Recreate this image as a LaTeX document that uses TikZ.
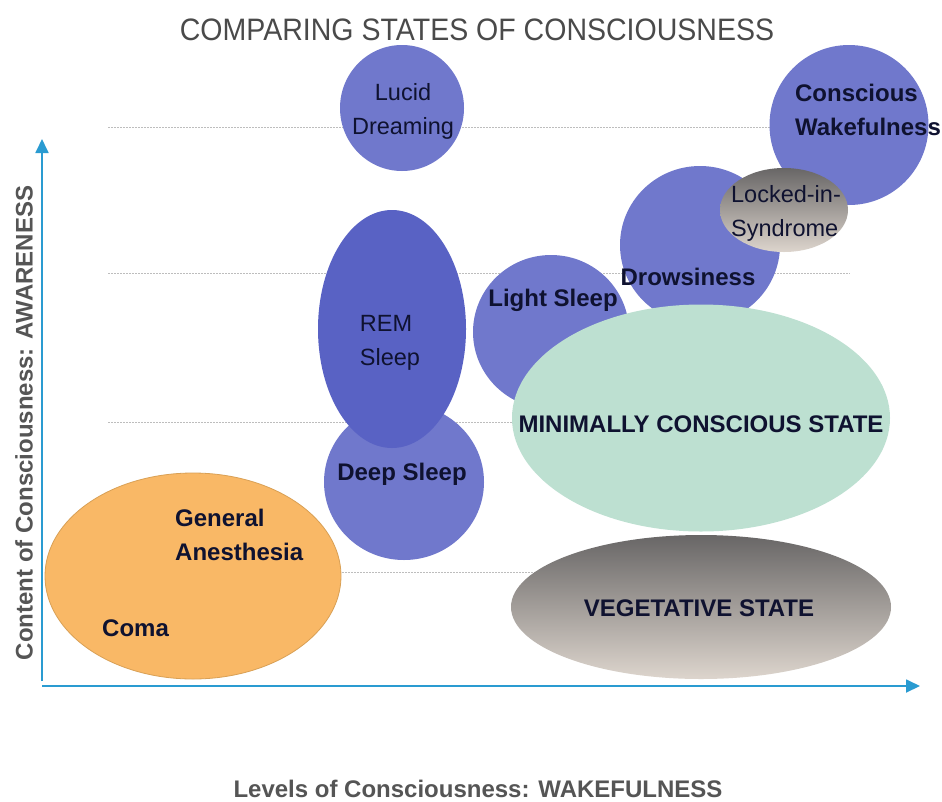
\documentclass[tikz,border=0pt]{standalone}
\usepackage{fontspec}
\setmainfont{Liberation Sans}
\usetikzlibrary{shapes.geometric,arrows.meta}
\definecolor{bluec}{HTML}{7078CC}
\definecolor{remc}{HTML}{5962C4}
\definecolor{mcsc}{HTML}{BDE0D1}
\definecolor{orangec}{HTML}{F9B866}
\definecolor{orangeb}{HTML}{D9A055}
\definecolor{grayt}{HTML}{686666}
\definecolor{grayb}{HTML}{DDD5CD}
\definecolor{axisc}{HTML}{2A9BD1}
\definecolor{dotc}{HTML}{BDBDBD}
\definecolor{txtc}{HTML}{0F1230}
\definecolor{titlec}{HTML}{4A4A4A}
\definecolor{labc}{HTML}{555555}
\tikzset{
  blob/.style={ellipse, inner sep=0pt, draw=none},
  bluecirc/.style={blob, fill=bluec},
  graygrad/.style={blob, top color=grayt, bottom color=grayb},
  guide/.style={draw=dotc, line width=1pt, dash pattern=on 1.5pt off 1.5pt},
  axisline/.style={draw=axisc, line width=1.8pt, -{Triangle[length=14pt,width=13pt]}},
  lbl/.style={text=txtc, font=\fontsize{23.5}{34}\selectfont, inner sep=0pt},
  blbl/.style={lbl, font=\fontsize{24}{34}\selectfont\bfseries},
}
\begin{document}
\begin{tikzpicture}[x=1pt,y=-1pt]
\useasboundingbox (0,0) rectangle (942,801);
\fill[white] (0,0) rectangle (942,801);

% guide lines
\coordinate (g1a) at (108,127); \coordinate (g1b) at (850,127);
\coordinate (g2a) at (108,273); \coordinate (g2b) at (850,273);
\coordinate (g3a) at (108,422); \coordinate (g3b) at (850,422);
\coordinate (g4a) at (108,572); \coordinate (g4b) at (850,572);
\draw[guide] (g1a) -- (g1b);
\draw[guide] (g2a) -- (g2b);
\draw[guide] (g3a) -- (g3b);
\draw[guide] (g4a) -- (g4b);

% shapes
\node[bluecirc, minimum width=124pt, minimum height=126pt] (lucid) at (402,108) {};
\node[bluecirc, minimum width=159pt, minimum height=160pt] (consc) at (849,125) {};
\node[bluecirc, minimum width=156pt, minimum height=154pt] (light) at (551,332) {};
\node[bluecirc, minimum width=160pt, minimum height=158pt] (drow) at (700,245) {};
\node[graygrad, minimum width=128pt, minimum height=84pt] (locked) at (784,210) {};
\node[bluecirc, minimum width=160pt, minimum height=156pt] (deep) at (404,482) {};
\node[blob, fill=remc, minimum width=148pt, minimum height=238pt] (rem) at (392,329) {};
\node[blob, fill=mcsc, minimum width=378pt, minimum height=227pt] (mcs) at (701,418) {};
\node[graygrad, minimum width=380pt, minimum height=144pt] (veg) at (701,607) {};
\node[blob, fill=orangec, draw=orangeb, line width=0.8pt, minimum width=296pt, minimum height=206pt] (orange) at (193,576) {};

% labels
\node[lbl, align=center] (tlucid) at (403,111) {Lucid\\Dreaming};
\node[blbl, align=left] (tconsc) at (868,110) {Conscious\\Wakefulness};
\node[blbl] (tlight) at (553,300) {Light Sleep};
\node[blbl] (tdrow) at (688,277) {Drowsiness};
\node[lbl, align=left] (tlocked) at (786,213) {Locked-in-\\Syndrome};
\node[lbl, align=left] (trem) at (390,343) {REM\\Sleep};
\node[blbl] (tdeep) at (402,474) {Deep Sleep};
\node[blbl] (tmcs) at (701,424) {MINIMALLY CONSCIOUS STATE};
\node[blbl] (tveg) at (699,608) {VEGETATIVE STATE};
\node[blbl, align=left, anchor=west] (tgen) at (175,535) {General\\Anesthesia};
\node[blbl, anchor=west] (tcoma) at (102,628) {Coma};

% axes
\coordinate (yb) at (42,681);
\coordinate (yt) at (42,139);
\coordinate (xl) at (42,686);
\coordinate (xr) at (920,686);
\draw[axisline] (yb) -- (yt);
\draw[axisline] (xl) -- (xr);

% titles
\node[text=titlec, font=\fontsize{31}{36}\selectfont, inner sep=0pt] (title) at (477,30) {\scalebox{0.92}[1]{COMPARING STATES OF CONSCIOUSNESS}};
\node[text=labc, font=\fontsize{24}{28}\selectfont\bfseries, inner sep=0pt] (xlab) at (478,789) {Levels of Consciousness: WAKEFULNESS};
\node[text=labc, font=\fontsize{24}{28}\selectfont\bfseries, inner sep=0pt, rotate=90] (ylab) at (24,423) {Content of Consciousness: AWARENESS};
\end{tikzpicture}
\end{document}
